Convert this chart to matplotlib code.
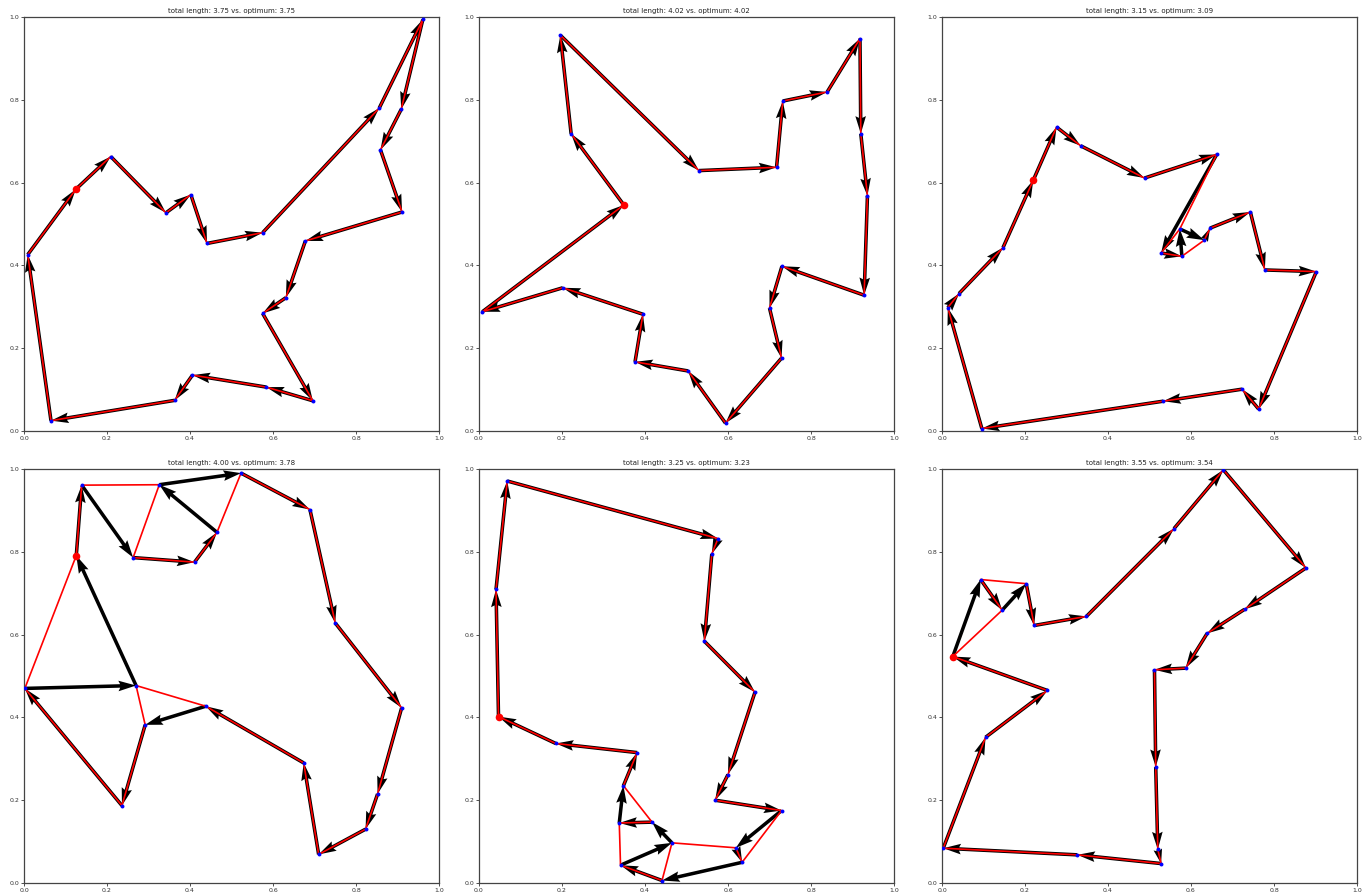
import numpy as np
import matplotlib
matplotlib.use("Agg")
import matplotlib.pyplot as plt

# ---- data: nodes listed in the order of the predicted (black) tour; first node = start ----
p1_x = [0.125, 0.209, 0.342, 0.402, 0.441, 0.575, 0.856, 0.961, 0.909, 0.859,
        0.911, 0.678, 0.631, 0.575, 0.696, 0.584, 0.406, 0.363, 0.065, 0.009]
p1_y = [0.584, 0.663, 0.527, 0.571, 0.453, 0.479, 0.780, 0.994, 0.777, 0.679,
        0.529, 0.459, 0.322, 0.284, 0.073, 0.106, 0.135, 0.074, 0.025, 0.426]
p1_opt = list(range(20))

p2_x = [0.349, 0.222, 0.196, 0.530, 0.717, 0.732, 0.839, 0.918, 0.920, 0.936,
        0.928, 0.730, 0.700, 0.729, 0.594, 0.504, 0.376, 0.395, 0.202, 0.008]
p2_y = [0.546, 0.718, 0.956, 0.629, 0.637, 0.797, 0.819, 0.948, 0.718, 0.568,
        0.328, 0.398, 0.297, 0.176, 0.019, 0.145, 0.167, 0.282, 0.346, 0.288]
p2_opt = list(range(20))

p3_x = [0.220, 0.276, 0.334, 0.488, 0.662, 0.528, 0.578, 0.573, 0.632, 0.646,
        0.743, 0.778, 0.902, 0.763, 0.723, 0.533, 0.096, 0.014, 0.041, 0.147]
p3_y = [0.606, 0.734, 0.689, 0.611, 0.668, 0.430, 0.422, 0.488, 0.461, 0.490,
        0.529, 0.389, 0.385, 0.053, 0.101, 0.072, 0.006, 0.298, 0.332, 0.443]
p3_opt = [0, 1, 2, 3, 4, 7, 5, 6, 8, 9, 10, 11, 12, 13, 14, 15, 16, 17, 18, 19]

p4_x = [0.126, 0.139, 0.263, 0.411, 0.465, 0.326, 0.523, 0.689, 0.750, 0.910,
        0.852, 0.823, 0.710, 0.674, 0.438, 0.292, 0.236, 0.002, 0.270]
p4_y = [0.791, 0.961, 0.786, 0.775, 0.847, 0.962, 0.990, 0.902, 0.628, 0.423,
        0.215, 0.130, 0.069, 0.290, 0.427, 0.382, 0.187, 0.470, 0.477]
p4_opt = [0, 1, 5, 2, 3, 4, 6, 7, 8, 9, 10, 11, 12, 13, 14, 18, 15, 16, 17]

p5_x = [0.047, 0.041, 0.068, 0.576, 0.561, 0.543, 0.665, 0.600, 0.569, 0.729,
        0.619, 0.634, 0.441, 0.341, 0.465, 0.417, 0.338, 0.348, 0.381, 0.185]
p5_y = [0.402, 0.709, 0.971, 0.832, 0.795, 0.584, 0.461, 0.262, 0.200, 0.175,
        0.085, 0.050, 0.006, 0.043, 0.097, 0.147, 0.145, 0.235, 0.315, 0.337]
p5_opt = [0, 1, 2, 3, 4, 5, 6, 7, 8, 9, 11, 10, 14, 12, 13, 16, 15, 17, 18, 19]

p6_x = [0.026, 0.093, 0.145, 0.203, 0.222, 0.348, 0.559, 0.678, 0.877, 0.729,
        0.639, 0.587, 0.512, 0.515, 0.520, 0.528, 0.326, 0.003, 0.105, 0.254]
p6_y = [0.547, 0.733, 0.659, 0.723, 0.622, 0.644, 0.856, 0.998, 0.761, 0.661,
        0.603, 0.519, 0.515, 0.280, 0.081, 0.047, 0.068, 0.084, 0.352, 0.465]
p6_opt = [0, 2, 1, 3, 4, 5, 6, 7, 8, 9, 10, 11, 12, 13, 14, 15, 16, 17, 18, 19]

model_lengths = [3.75, 4.02, 3.15, 4.00, 3.25, 3.55]
opt_lengths = [3.75, 4.02, 3.09, 3.78, 3.23, 3.54]

panels = [(p1_x, p1_y, p1_opt), (p2_x, p2_y, p2_opt), (p3_x, p3_y, p3_opt),
          (p4_x, p4_y, p4_opt), (p5_x, p5_y, p5_opt), (p6_x, p6_y, p6_opt)]

plt.rcParams["font.family"] = ["DejaVu Sans"]
fig = plt.figure(figsize=(13.7, 8.96), dpi=100)

lefts = [24 / 1370, 479 / 1370, 942 / 1370]
bottoms = [(896 - 431) / 896, (896 - 883) / 896]
w = 415 / 1370
h = 414 / 896

for i, (xs, ys, opt) in enumerate(panels):
    r, c = divmod(i, 3)
    ax = fig.add_axes([lefts[c], bottoms[r], w, h])
    xs = np.asarray(xs)
    ys = np.asarray(ys)
    nx = np.roll(xs, -1)
    ny = np.roll(ys, -1)
    ax.quiver(xs, ys, nx - xs, ny - ys, angles="xy", scale_units="xy", scale=1,
              width=0.0085, color="black", zorder=1)
    o = list(opt) + [opt[0]]
    ax.plot(xs[o], ys[o], color="red", lw=1.2, zorder=2)
    ax.scatter(xs, ys, s=8, color="blue", zorder=3, linewidths=0)
    ax.scatter(xs[0], ys[0], s=30, color="red", zorder=4, linewidths=0)
    ax.set_xlim(0, 1)
    ax.set_ylim(0, 1)
    ax.set_xticks(np.arange(0, 1.01, 0.2))
    ax.set_yticks(np.arange(0, 1.01, 0.2))
    ax.tick_params(labelsize=4.5, length=2, width=0.6, pad=1.5, colors="#333333")
    for s in ax.spines.values():
        s.set_linewidth(0.9)
        s.set_color("#444444")
    ax.set_title(f"total length: {model_lengths[i]:.2f} vs. optimum: {opt_lengths[i]:.2f}",
                 fontsize=5, pad=3, color="#222222")

fig.savefig("out.png", dpi=100)
